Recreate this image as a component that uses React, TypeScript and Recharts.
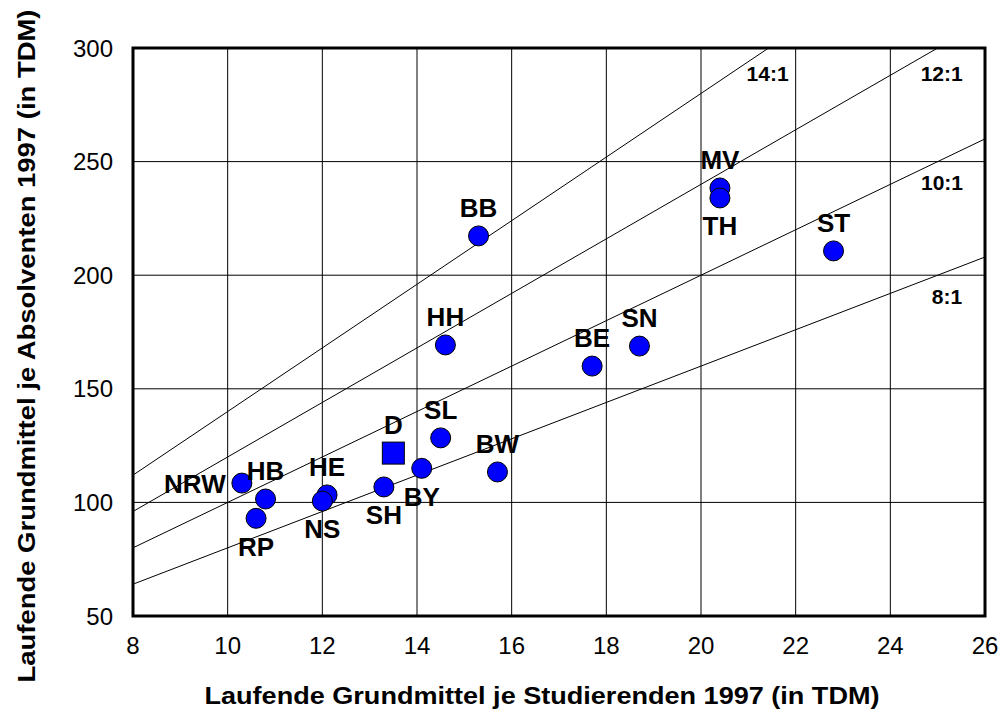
import React from 'react';
import {
  ScatterChart,
  Scatter,
  XAxis,
  YAxis,
  CartesianGrid,
  ReferenceLine,
  ReferenceArea,
  Label,
} from 'recharts';

// Bundeslaender: laufende Grundmittel je Studierenden / je Absolventen (TDM), 1997
const STATES = ['NRW', 'RP', 'HB', 'HE', 'NS', 'SH', 'BY', 'SL', 'BW', 'HH', 'BB', 'BE', 'SN', 'MV', 'TH', 'ST'];
const PER_STUDENT = [10.3, 10.6, 10.8, 12.1, 12.0, 13.3, 14.1, 14.5, 15.7, 14.6, 15.3, 17.7, 18.7, 20.4, 20.4, 22.8];
const PER_GRADUATE = [108.5, 93, 101.5, 103.3, 100.6, 106.8, 115, 128.4, 113.4, 169.3, 217.3, 160, 168.8, 238.4, 234, 210.7];

// Deutschland gesamt
const TOTAL_NAME = ['D'];
const TOTAL_STUDENT = [13.5];
const TOTAL_GRADUATE = [121.7];

// Verhaeltnis Absolvent : Studierende
const RATIOS = [8, 10, 12, 14];

const X_TICKS = [8, 10, 12, 14, 16, 18, 20, 22, 24, 26];
const Y_TICKS = [50, 100, 150, 200, 250, 300];

// where each point label sits relative to its marker
const LABEL_SIDE: Record<string, string> = {
  NRW: 'left', RP: 'below', HB: 'above', HE: 'above', NS: 'below', SH: 'below',
  BY: 'below', SL: 'above', BW: 'above', HH: 'above', BB: 'above', BE: 'above',
  SN: 'above', MV: 'above', TH: 'below', ST: 'above', D: 'above',
};

const RATIO_LABEL_SHIFT: Record<number, [number, number]> = {
  14: [-1, 25],
  12: [4, 25],
  10: [-43, 43],
  8: [-38, 39],
};

const FONT = '"Liberation Sans", Arial, sans-serif';
const BLUE = '#0000FF';

const stateData = STATES.map((name, i) => ({ name, x: PER_STUDENT[i], y: PER_GRADUATE[i] }));
const totalData = TOTAL_NAME.map((name, i) => ({ name, x: TOTAL_STUDENT[i], y: TOTAL_GRADUATE[i] }));

const pointLabel = (name: string, cx: number, cy: number) => {
  const side = LABEL_SIDE[name] || 'above';
  let tx = cx;
  let ty = cy - 28;
  if (side === 'below') ty = cy + 28;
  if (side === 'left') {
    tx = cx - 47;
    ty = cy + 1;
  }
  return (
    <text x={tx} y={ty + 9.4} textAnchor="middle" fontSize={26} fontWeight="bold" fontFamily={FONT} fill="#000">
      {name}
    </text>
  );
};

const CircleShape = (props: any) => {
  const { cx, cy, payload } = props;
  return (
    <g>
      <circle cx={cx} cy={cy} r={10} fill={BLUE} stroke="#000" strokeWidth={1} />
      {pointLabel(payload.name, cx, cy)}
    </g>
  );
};

const SquareShape = (props: any) => {
  const { cx, cy, payload } = props;
  return (
    <g>
      <rect x={cx - 11} y={cy - 11} width={22} height={22} fill={BLUE} stroke="#000" strokeWidth={1} />
      {pointLabel(payload.name, cx, cy)}
    </g>
  );
};

const ratioLabel = (k: number) => (props: any) => {
  const vb = props.viewBox || {};
  const [dx, dy] = RATIO_LABEL_SHIFT[k];
  const x = (vb.x ?? 0) + (vb.width ?? 0) + dx;
  const y = (vb.y ?? 0) + dy;
  return (
    <text x={x} y={y + 8} textAnchor="middle" fontSize={21} fontWeight="bold" fontFamily={FONT} fill="#000">
      {k}:1
    </text>
  );
};

export default function App() {
  return (
    <div style={{ position: 'absolute', left: 0, top: 0, width: 1001, height: 717, background: '#fff' }}>
      <ScatterChart width={1001} height={717} margin={{ top: 48, right: 16, bottom: 0, left: 0 }}>
        <CartesianGrid stroke="#000" strokeWidth={1} fill="none" />
        <XAxis
          type="number"
          dataKey="x"
          domain={[8, 26]}
          ticks={X_TICKS}
          interval={0}
          height={101}
          tickSize={0}
          tickMargin={21}
          axisLine={false}
          tick={{ fontSize: 24, fill: '#000', fontFamily: FONT }}
        >
          <Label
            content={() => (
              <text
                x={542}
                y={704}
                textAnchor="middle"
                fontSize={23}
                fontWeight="bold"
                fontFamily={FONT}
                fill="#000"
                textLength={675}
                lengthAdjust="spacingAndGlyphs"
              >
                Laufende Grundmittel je Studierenden 1997 (in TDM)
              </text>
            )}
          />
        </XAxis>
        <YAxis
          type="number"
          dataKey="y"
          domain={[50, 300]}
          ticks={Y_TICKS}
          interval={0}
          width={133}
          tickSize={0}
          tickMargin={20}
          axisLine={false}
          tick={{ fontSize: 24, fill: '#000', fontFamily: FONT }}
        >
          <Label
            content={() => (
              <text
                x={35}
                y={346}
                transform="rotate(-90 35 346)"
                textAnchor="middle"
                fontSize={23}
                fontWeight="bold"
                fontFamily={FONT}
                fill="#000"
                textLength={673}
                lengthAdjust="spacingAndGlyphs"
              >
                Laufende Grundmittel je Absolventen 1997 (in TDM)
              </text>
            )}
          />
        </YAxis>
        {RATIOS.map((k) => {
          const xEnd = Math.min(26, 300 / k);
          return (
            <ReferenceLine
              key={k}
              segment={[{ x: 8, y: 8 * k }, { x: xEnd, y: k * xEnd }]}
              stroke="#000"
              strokeWidth={1}
              label={ratioLabel(k)}
            />
          );
        })}
        <ReferenceArea x1={8} x2={26} y1={50} y2={300} fill="none" stroke="#000" strokeWidth={3} ifOverflow="visible" />
        <Scatter data={stateData} shape={CircleShape} isAnimationActive={false} />
        <Scatter data={totalData} shape={SquareShape} isAnimationActive={false} />
      </ScatterChart>
    </div>
  );
}
